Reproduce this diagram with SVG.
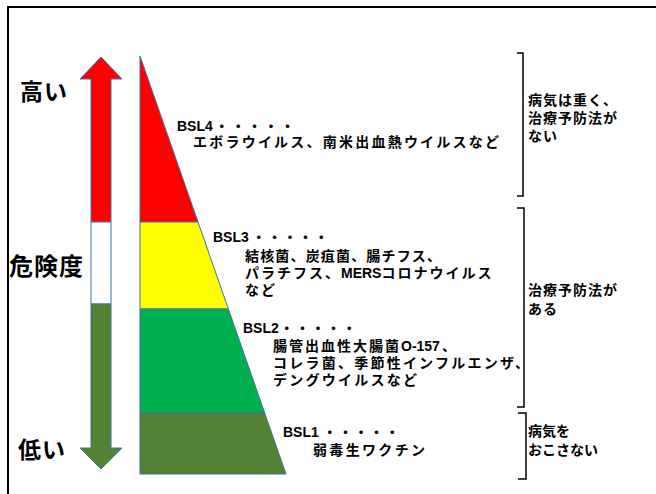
<svg xmlns="http://www.w3.org/2000/svg" width="656" height="494" viewBox="0 0 656 494">
<style>
.t{font-family:"Liberation Sans","Noto Sans CJK JP",sans-serif;font-weight:bold;fill:#000;}
.b{font-size:14px;}
.j{font-size:14px;}
.big{font-size:23px;letter-spacing:1px;}
.band{stroke:#41719C;stroke-width:1;stroke-linejoin:round;}
.br{fill:none;stroke:#000;stroke-width:1.5;}
</style>
<rect width="656" height="494" fill="#fff"/>
<rect x="8" y="7" width="700" height="600" fill="none" stroke="#000" stroke-width="2"/>

<g id="scale-arrow">
<polygon points="101,57 122,79 111,79 111,222 91,222 91,79 80,79" fill="#FF0000" class="band"/>
<rect x="91" y="222" width="20" height="82" fill="#FFFFFF" class="band"/>
<polygon points="91,304 111,304 111,448 122,448 101,469 80,448 91,448" fill="#548235" class="band"/>
<text class="t big" x="20" y="100">高い</text>
<text class="t big" x="9" y="275" style="font-size:24px">危険度</text>
<text class="t big" x="18" y="458">低い</text>
</g>

<g id="pyramid">
<polygon points="140,56 198,222 140,222" fill="#FF0000" class="band"/>
<polygon points="140,222 198,222 228.4,309 140,309" fill="#FFFF00" class="band"/>
<polygon points="140,309 228.4,309 264.7,413 140,413" fill="#00B050" class="band"/>
<polygon points="140,413 264.7,413 286,474 140,474" fill="#548235" class="band"/>
</g>

<g id="bsl4">
<text class="t b" x="177" y="131">BSL4<tspan dx="2" letter-spacing="2.4">・・・・・</tspan></text>
<text class="t j" x="193" y="147" textLength="306" lengthAdjust="spacing">エボラウイルス、南米出血熱ウイルスなど</text>
</g>

<g id="bsl3">
<text class="t b" x="213" y="242">BSL3<tspan dx="3" letter-spacing="1.6">・・・・・</tspan></text>
<text class="t j" x="245" y="261" textLength="196" lengthAdjust="spacing">結核菌、炭疽菌、腸チフス、</text>
<text class="t j" x="245" y="278"><tspan letter-spacing="2">パラチフス、</tspan>MERS<tspan letter-spacing="2">コロナウイルス</tspan></text>
<text class="t j" x="245" y="295" letter-spacing="2">など</text>
</g>

<g id="bsl2">
<text class="t b" x="243" y="333">BSL2<tspan dx="1" letter-spacing="1.6">・・・・・</tspan></text>
<text class="t j" x="273" y="351"><tspan letter-spacing="2">腸管出血性大腸菌</tspan>O-157<tspan dx="2">、</tspan></text>
<text class="t j" x="273" y="368" textLength="256" lengthAdjust="spacing">コレラ菌、季節性インフルエンザ、</text>
<text class="t j" x="273" y="385" textLength="144" lengthAdjust="spacing">デングウイルスなど</text>
</g>

<g id="bsl1">
<text class="t b" x="283" y="437">BSL1<tspan dx="4" letter-spacing="1.6">・・・・・</tspan></text>
<text class="t j" x="313" y="455" textLength="112" lengthAdjust="spacing">弱毒生ワクチン</text>
</g>

<g id="connectors">
<path class="br" d="M517,53 H523 V196 H517"/>
<path class="br" d="M517,208 H524 V407 H517"/>
<path class="br" d="M518,413 H526 V479 H518"/>
</g>

<g id="note-none">
<text class="t j" x="528" y="105" letter-spacing="1">病気は重く、</text>
<text class="t j" x="528" y="123" letter-spacing="1">治療予防法が</text>
<text class="t j" x="528" y="141" letter-spacing="1">ない</text>
</g>
<g id="note-some">
<text class="t j" x="528" y="295" letter-spacing="1">治療予防法が</text>
<text class="t j" x="528" y="314" letter-spacing="1">ある</text>
</g>
<g id="note-safe">
<text class="t j" x="528" y="436">病気を</text>
<text class="t j" x="528" y="455">おこさない</text>
</g>
</svg>
